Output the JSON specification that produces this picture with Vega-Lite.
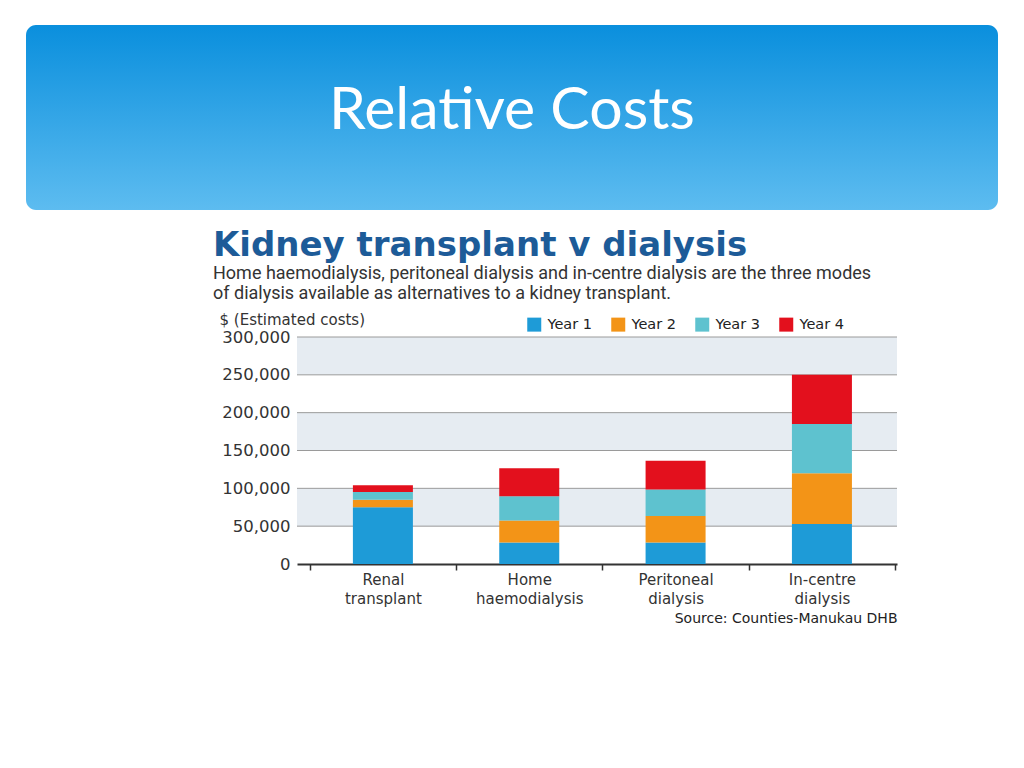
{
  "$schema": "https://vega.github.io/schema/vega-lite/v6.json",
  "background": "white",
  "padding": {"left": 26, "top": 25, "right": 20, "bottom": 10},
  "spacing": 19,
  "resolve": {"scale": {"color": "independent"}, "legend": {"color": "independent"}},
  "config": {"view": {"stroke": null}, "font": "DejaVu Sans"},
  "datasets": {
    "costs": [
      {"mode": "Renal transplant", "year": "Year 1", "cost": 75000},
      {"mode": "Renal transplant", "year": "Year 2", "cost": 10000},
      {"mode": "Renal transplant", "year": "Year 3", "cost": 10000},
      {"mode": "Renal transplant", "year": "Year 4", "cost": 9000},
      {"mode": "Home haemodialysis", "year": "Year 1", "cost": 28500},
      {"mode": "Home haemodialysis", "year": "Year 2", "cost": 29000},
      {"mode": "Home haemodialysis", "year": "Year 3", "cost": 32000},
      {"mode": "Home haemodialysis", "year": "Year 4", "cost": 37000},
      {"mode": "Peritoneal dialysis", "year": "Year 1", "cost": 28500},
      {"mode": "Peritoneal dialysis", "year": "Year 2", "cost": 35000},
      {"mode": "Peritoneal dialysis", "year": "Year 3", "cost": 35000},
      {"mode": "Peritoneal dialysis", "year": "Year 4", "cost": 38000},
      {"mode": "In-centre dialysis", "year": "Year 1", "cost": 53000},
      {"mode": "In-centre dialysis", "year": "Year 2", "cost": 67000},
      {"mode": "In-centre dialysis", "year": "Year 3", "cost": 65000},
      {"mode": "In-centre dialysis", "year": "Year 4", "cost": 65000}
    ],
    "bands": [
      {"lo": 50000, "hi": 100000},
      {"lo": 150000, "hi": 200000},
      {"lo": 250000, "hi": 300000}
    ],
    "header": [{"t": "Relative Costs"}]
  },
  "vconcat": [
    {
      "width": 972,
      "height": 185,
      "view": {
        "fill": {"gradient": "linear", "x1": 0, "y1": 0, "x2": 0, "y2": 1,
          "stops": [{"offset": 0, "color": "#0a8fdd"}, {"offset": 1, "color": "#5dbcf0"}]},
        "cornerRadius": 10,
        "stroke": null
      },
      "data": {"name": "header"},
      "mark": {"type": "text", "font": "Lato", "fontSize": 59, "color": "white", "baseline": "alphabetic", "dy": 11},
      "encoding": {"text": {"field": "t"}}
    },
    {
      "spacing": 0,
      "resolve": {"scale": {"color": "independent"}, "legend": {"color": "independent"}},
      "hconcat": [
        {
          "width": 187,
          "height": 10,
          "data": {"values": []},
          "mark": "point",
          "encoding": {}
        },
        {
          "width": 600,
          "height": 227,
          "title": {
            "text": "Kidney transplant v dialysis",
            "subtitle": [
              "Home haemodialysis, peritoneal dialysis and in-centre dialysis are the three modes",
              "of dialysis available as alternatives to a kidney transplant."
            ],
            "anchor": "start",
            "frame": "group",
            "dx": -84,
            "offset": 9,
            "font": "DejaVu Sans",
            "fontSize": 34,
            "fontWeight": "bold",
            "color": "#1d5b98",
            "subtitleFont": "Roboto",
            "subtitleFontSize": 18,
            "subtitleColor": "#333333",
            "subtitleLineHeight": 20,
            "subtitlePadding": 2
          },
          "encoding": {
            "y": {"type": "quantitative",
              "scale": {"domain": [0, 300000], "nice": false},
              "axis": {"values": [0, 50000, 100000, 150000, 200000, 250000, 300000], "format": ",d",
                "domain": false, "ticks": false, "grid": false, "labelOverlap": false,
                "labelFont": "DejaVu Sans", "labelFontSize": 16.5, "labelColor": "#333333", "labelPadding": 7,
                "title": "$ (Estimated costs)", "titleAngle": 0, "titleAlign": "left", "titleBaseline": "alphabetic",
                "titleX": -78, "titleY": -13, "titleFont": "DejaVu Sans", "titleFontSize": 15, "titleFontWeight": "normal", "titleColor": "#333333"}}
          },
          "layer": [
            {
              "data": {"name": "bands"},
              "mark": {"type": "rect", "color": "#e6ecf2"},
              "encoding": {
                "y": {"field": "lo"},
                "y2": {"field": "hi"}
              }
            },
            {
              "data": {"name": "bands"},
              "mark": {"type": "rule", "color": "#9a9a9a", "strokeWidth": 1},
              "encoding": {"y": {"field": "lo"}}
            },
            {
              "data": {"name": "bands"},
              "mark": {"type": "rule", "color": "#9a9a9a", "strokeWidth": 1},
              "encoding": {"y": {"field": "hi"}}
            },
            {
              "data": {"name": "costs"},
              "mark": {"type": "bar", "width": {"band": 0.41}},
              "encoding": {
                "x": {"field": "mode", "type": "nominal", "sort": null,
                  "scale": {"paddingInner": 0, "paddingOuter": 0.05, "align": 0.87},
                  "axis": {"title": "Source: Counties-Manukau DHB", "labelExpr": "split(datum.label, ' ')",
                    "labelAngle": 0, "labelFont": "DejaVu Sans", "labelFontSize": 15, "labelColor": "#333333", "labelLineHeight": 19, "labelPadding": 2,
                    "tickBand": "extent", "tickSize": 6, "tickColor": "#333333", "tickWidth": 1.5,
                    "domainColor": "#333333", "domainWidth": 2,
                    "titleX": 600, "titleY": 58, "titleAlign": "right", "titleBaseline": "alphabetic",
                    "titleFont": "DejaVu Sans", "titleFontSize": 14, "titleFontWeight": "normal", "titleColor": "#222222"}},
                "y": {"field": "cost", "stack": "zero"},
                "order": {"field": "year", "sort": "ascending"},
                "color": {"field": "year", "type": "nominal",
                  "scale": {"domain": ["Year 1", "Year 2", "Year 3", "Year 4"],
                    "range": ["#1e9bd7", "#f39417", "#5ec2cf", "#e3101d"]},
                  "legend": {"orient": "none", "legendX": 230, "legendY": -20, "direction": "horizontal", "title": null,
                    "symbolType": "square", "symbolSize": 196, "symbolStrokeWidth": 0, "symbolOpacity": 1,
                    "labelFont": "DejaVu Sans", "labelFontSize": 14.5, "labelColor": "#222222", "columnPadding": 18, "labelOffset": 6}}
              }
            }
          ]
        }
      ]
    }
  ]
}
